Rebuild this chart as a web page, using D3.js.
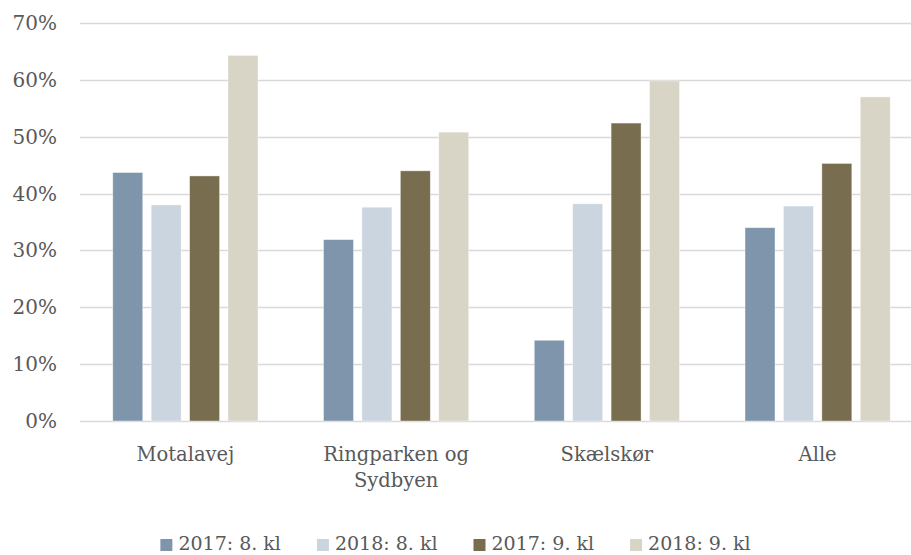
<!DOCTYPE html>
<html>
<head>
<meta charset="utf-8">
<script src="https://cdn.jsdelivr.net/npm/d3@7"></script>
<style>
  body { margin: 0; background: #fff; }
  svg text { font-family: "DejaVu Serif", serif; fill: #595959; }
</style>
</head>
<body>
<div id="chart"></div>
<script>
// Données du graphique
const categories = ['Motalavej', 'Ringparken og\nSydbyen', 'Skælskør', 'Alle'];
const seriesNames = ['2017: 8. kl', '2018: 8. kl', '2017: 9. kl', '2018: 9. kl'];
const s2017_8 = [0.437, 0.319, 0.142, 0.340];
const s2018_8 = [0.380, 0.376, 0.382, 0.378];
const s2017_9 = [0.431, 0.440, 0.524, 0.453];
const s2018_9 = [0.643, 0.508, 0.598, 0.570];
const yTicks = [0, 0.1, 0.2, 0.3, 0.4, 0.5, 0.6, 0.7];
const colors = ['#7f95ac', '#cad5df', '#786e4f', '#d8d5c6'];

const width = 911, height = 555;
const seriesValues = [s2017_8, s2018_8, s2017_9, s2018_9];

const svg = d3.select('#chart').append('svg')
    .attr('width', width)
    .attr('height', height);

// Échelles
const y = d3.scaleLinear().domain([0, 0.7]).range([421, 23]);
const x0 = d3.scaleBand().domain(d3.range(categories.length))
    .range([80, 923]).paddingInner(0.271).paddingOuter(0.1355);
const x1 = d3.scaleBand().domain(d3.range(seriesNames.length))
    .range([0, x0.bandwidth()]).paddingInner(0.22).paddingOuter(0.11);

// Grille
svg.append('g')
    .selectAll('line')
    .data(yTicks)
    .enter().append('line')
    .attr('x1', 80).attr('x2', width)
    .attr('y1', d => Math.round(y(d)) + 0.5)
    .attr('y2', d => Math.round(y(d)) + 0.5)
    .attr('stroke', '#d9d9d9')
    .attr('stroke-width', 1.5);

// Étiquettes de l'axe Y
svg.append('g')
    .selectAll('text')
    .data(yTicks)
    .enter().append('text')
    .attr('x', 57)
    .attr('y', d => y(d))
    .attr('dy', '0.35em')
    .attr('text-anchor', 'end')
    .attr('font-size', 20)
    .text(d => d3.format('.0%')(d));

// Barres
const groups = svg.append('g')
    .selectAll('g')
    .data(categories.map((c, i) => i))
    .enter().append('g')
    .attr('transform', i => `translate(${x0(i)},0)`);

groups.selectAll('rect')
    .data(i => seriesValues.map((s, j) => ({ j: j, v: s[i] })))
    .enter().append('rect')
    .attr('x', d => x1(d.j))
    .attr('width', x1.bandwidth())
    .attr('y', d => y(d.v))
    .attr('height', d => y(0) - y(d.v))
    .attr('fill', d => colors[d.j])
    .attr('stroke', '#ffffff')
    .attr('stroke-opacity', 0.5)
    .attr('stroke-width', 0.75);

// Étiquettes des catégories
svg.append('g')
    .selectAll('text')
    .data(categories.map((c, i) => i))
    .enter().append('text')
    .attr('x', i => x0(i) + x0.bandwidth() / 2)
    .attr('y', 461)
    .attr('text-anchor', 'middle')
    .attr('font-size', 19.5)
    .each(function(i) {
        const lines = categories[i].split('\n');
        d3.select(this).selectAll('tspan')
            .data(lines)
            .enter().append('tspan')
            .attr('x', x0(i) + x0.bandwidth() / 2)
            .attr('dy', (d, k) => k === 0 ? 0 : 26)
            .text(d => d);
    });

// Légende
const legend = svg.append('g');
let lx = 0;
seriesNames.forEach((name, j) => {
    const item = legend.append('g').attr('transform', `translate(${lx},0)`);
    item.append('rect')
        .attr('x', 0).attr('y', 539)
        .attr('width', 12).attr('height', 12)
        .attr('fill', colors[j]);
    const t = item.append('text')
        .attr('x', 18).attr('y', 550)
        .attr('font-size', 19)
        .text(name);
    lx += 18 + t.node().getComputedTextLength() + 36;
});
const legendWidth = lx - 36;
legend.attr('transform', `translate(${(width - legendWidth) / 2},0)`);
</script>
</body>
</html>
